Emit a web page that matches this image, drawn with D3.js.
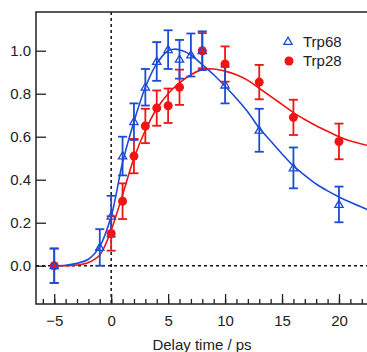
<!DOCTYPE html>
<html>
<head>
<meta charset="utf-8">
<script src="https://cdn.jsdelivr.net/npm/d3@7"></script>
<style>
  html, body { margin: 0; padding: 0; background: #fff; }
  svg { display: block; }
  text { font-family: "Liberation Sans", Arial, sans-serif; fill: #222; }
</style>
</head>
<body>
<div id="chart"></div>
<script>
// ---- data ----
const delays68 = [-5, -1, 0, 1, 2, 3, 4, 5, 6, 7, 8, 10, 13, 16, 20];
const trp68    = [0, 0.085, 0.23, 0.51, 0.67, 0.83, 0.95, 1.005, 0.96, 0.98, 1.0, 0.84, 0.63, 0.455, 0.285];
const err68    = [0.08, 0.085, 0.095, 0.09, 0.085, 0.085, 0.09, 0.09, 0.09, 0.1, 0.09, 0.085, 0.1, 0.095, 0.083];

const delays28 = [-5, 0, 1, 2, 3, 4, 5, 6, 8, 10, 13, 16, 20];
const trp28    = [0, 0.15, 0.30, 0.51, 0.65, 0.733, 0.744, 0.83, 1.0, 0.938, 0.854, 0.69, 0.578];
const err28    = [0.08, 0.08, 0.083, 0.08, 0.08, 0.082, 0.08, 0.082, 0.082, 0.082, 0.08, 0.082, 0.083];

// fitted curves
const fitX68 = [-5, -4, -3, -2, -1, 0, 1, 2, 3, 4, 5, 5.5, 6, 7, 8, 9, 10, 11, 12, 13, 14, 15, 16, 17, 18, 19, 20, 21, 22.46];
const fitY68 = [0, 0.002, 0.011, 0.03, 0.09, 0.23, 0.48, 0.67, 0.83, 0.94, 1.0, 1.007, 1.004, 0.98, 0.935, 0.888, 0.835, 0.778, 0.715, 0.64, 0.58, 0.52, 0.464, 0.42, 0.38, 0.348, 0.32, 0.295, 0.262];
const fitX28 = [-5, -4, -3, -2, -1, 0, 1, 2, 3, 4, 5, 6, 7, 8, 9, 10, 11, 12, 13, 14, 15, 16, 17, 18, 19, 20, 21, 22.46];
const fitY28 = [0, 0.0, 0.003, 0.015, 0.05, 0.165, 0.33, 0.5, 0.63, 0.73, 0.8, 0.85, 0.888, 0.912, 0.915, 0.905, 0.888, 0.862, 0.825, 0.788, 0.75, 0.712, 0.68, 0.651, 0.625, 0.6, 0.58, 0.56];

const xMajor = [-5, 0, 5, 10, 15, 20];
const xMinor = d3.range(-6, 23, 1);
const yMajor = [0, 0.2, 0.4, 0.6, 0.8, 1.0];
const seriesNames = ["Trp68", "Trp28"];

// ---- layout ----
const W = 367, H = 352;
const blue = "#1c4bd6", red = "#f01414";
const svg = d3.select("#chart").append("svg").attr("width", W).attr("height", H);

const x = d3.scaleLinear().domain([-6.6, 22.46]).range([36, 367]);
const y = d3.scaleLinear().domain([-0.178, 1.18]).range([304, 12]);

svg.append("defs").append("clipPath").attr("id", "clip")
  .append("rect").attr("x", 36).attr("y", 12).attr("width", 331).attr("height", 292);

// dotted zero lines
svg.append("line").attr("x1", x(0)).attr("x2", x(0)).attr("y1", 12).attr("y2", 304)
  .attr("stroke", "#111").attr("stroke-width", 1.5).attr("stroke-dasharray", "3,3");
svg.append("line").attr("x1", 36).attr("x2", W).attr("y1", y(0)).attr("y2", y(0))
  .attr("stroke", "#111").attr("stroke-width", 1.5).attr("stroke-dasharray", "3,3");

// axes
const xAxisMinor = d3.axisBottom(x).tickValues(xMinor).tickSize(-5).tickFormat("");
const xAxisMajor = d3.axisBottom(x).tickValues(xMajor).tickSize(-10).tickFormat(d3.format("d"));
const yAxis = d3.axisLeft(y).tickValues(yMajor).tickSize(-10).tickFormat(d3.format(".1f"));

const gxMin = svg.append("g").attr("transform", "translate(0,304)").call(xAxisMinor);
const gx = svg.append("g").attr("transform", "translate(0,304)").call(xAxisMajor);
const gy = svg.append("g").attr("transform", "translate(36,0)").call(yAxis);
[gxMin, gx, gy].forEach(g => {
  g.select(".domain").remove();
  g.selectAll("line").attr("stroke", "#222").attr("stroke-width", 1.3);
  g.selectAll("text").attr("font-size", 15).attr("fill", "#222")
    .attr("font-family", '"Liberation Sans", Arial, sans-serif');
});
gx.selectAll("text").attr("y", 22).attr("dy", "0");
gy.selectAll("text").attr("x", -5).attr("dy", "0.35em");

// frame: left, top, bottom
svg.append("path").attr("d", `M${W},12H36V304H${W}`)
  .attr("fill", "none").attr("stroke", "#222").attr("stroke-width", 1.5);

// axis title
svg.append("text").attr("x", 202).attr("y", 350)
  .attr("text-anchor", "middle").attr("font-size", 15).text("Delay time / ps");

const plot = svg.append("g").attr("clip-path", "url(#clip)");

// fit lines
const line = d3.line().x(d => x(d[0])).y(d => y(d[1])).curve(d3.curveCatmullRom.alpha(0.5));
plot.append("path").datum(d3.zip(fitX28, fitY28)).attr("d", line)
  .attr("fill", "none").attr("stroke", red).attr("stroke-width", 1.6);
plot.append("path").datum(d3.zip(fitX68, fitY68)).attr("d", line)
  .attr("fill", "none").attr("stroke", blue).attr("stroke-width", 1.6);

function errorBars(xs, ys, es, color) {
  const g = plot.append("g").attr("stroke", color).attr("stroke-width", 1.8).attr("fill", "none");
  xs.forEach((xv, i) => {
    const cx = x(xv), top = y(ys[i] + es[i]), bot = y(ys[i] - es[i]);
    g.append("line").attr("x1", cx).attr("x2", cx).attr("y1", top).attr("y2", bot);
    g.append("line").attr("x1", cx - 4.5).attr("x2", cx + 4.5).attr("y1", top).attr("y2", top);
    g.append("line").attr("x1", cx - 4.5).attr("x2", cx + 4.5).attr("y1", bot).attr("y2", bot);
  });
}
errorBars(delays28, trp28, err28, red);
errorBars(delays68, trp68, err68, blue);

// markers
plot.append("g").selectAll("circle").data(d3.zip(delays28, trp28)).join("circle")
  .attr("cx", d => x(d[0])).attr("cy", d => y(d[1])).attr("r", 4.5).attr("fill", red);

const tri = d3.symbol().type(d3.symbolTriangle).size(30);
plot.append("g").selectAll("path").data(d3.zip(delays68, trp68)).join("path")
  .attr("d", tri).attr("transform", d => `translate(${x(d[0])},${y(d[1]) + 0.5})`)
  .attr("fill", "none").attr("stroke", blue).attr("stroke-width", 1.3);

// legend
const leg = svg.append("g");
leg.append("path").attr("d", tri).attr("transform", "translate(288,42)")
  .attr("fill", "none").attr("stroke", blue).attr("stroke-width", 1.3);
leg.append("text").attr("x", 303).attr("y", 41.5).attr("dy", "0.35em")
  .attr("font-size", 15).text(seriesNames[0]);
leg.append("circle").attr("cx", 289).attr("cy", 61).attr("r", 4.5).attr("fill", red);
leg.append("text").attr("x", 303).attr("y", 61).attr("dy", "0.35em")
  .attr("font-size", 15).text(seriesNames[1]);
</script>
</body>
</html>
